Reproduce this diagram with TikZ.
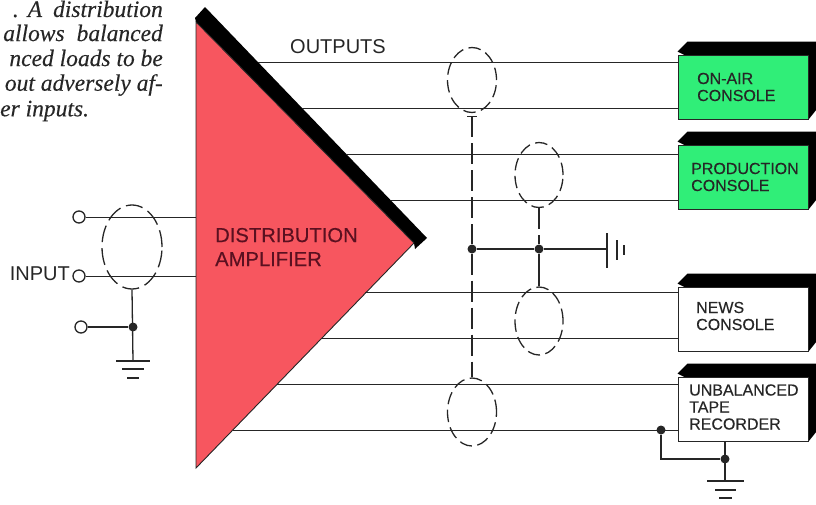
\documentclass[tikz,border=0pt]{standalone}
\usepackage{fontspec}
\setmainfont{Liberation Sans}
\newfontfamily\captionserif[FakeBold=0.25]{Liberation Serif}
\newfontfamily\medsans[FakeBold=0.35]{Liberation Sans}
\usetikzlibrary{arrows.meta,positioning,calc,backgrounds,shapes.geometric}
\definecolor{ampred}{HTML}{F7565F}
\definecolor{consolegreen}{HTML}{30EE78}
\definecolor{inkgray}{HTML}{262626}
\definecolor{ampink}{HTML}{5A1020}
\newcommand{\boxback}[1]{%
  \fill[black] ($(#1.north west)+(0,-3)$) -- ++(10,-10) -| ($(#1.south east)+(8,-10)$)
    -- ($(#1.south east)+(0,0)$) -- cycle;}
\tikzset{
  wire/.style={draw=inkgray, line width=1pt},
  shield/.style={draw=inkgray, line width=1.3pt, dash pattern=on 12.5pt off 5.5pt, ellipse, inner sep=0pt},
  drain/.style={draw=inkgray, line width=1.3pt},
  dropline/.style={draw=inkgray, line width=1.3pt, dash pattern=on 21pt off 6pt},
  joint/.style={circle, fill=inkgray, inner sep=0pt, minimum size=9pt},
  term/.style={circle, draw=inkgray, fill=white, line width=1.3pt, inner sep=0pt, minimum size=12pt},
  console/.style={draw=inkgray, line width=1pt, minimum width=130pt, minimum height=64pt, inner sep=0pt},
  boxlbl/.style={font=\medsans\fontsize{16}{17}\selectfont, align=left, text=inkgray, inner sep=0pt},
  sidelbl/.style={font=\fontsize{20}{22}\selectfont, text=inkgray, inner sep=0pt},
  ampbl/.style={font=\medsans\fontsize{20.2}{24}\selectfont, align=left, text=ampink, inner sep=0pt},
  capline/.style={font=\captionserif\itshape\fontsize{23.5}{26}\selectfont, text=inkgray, inner sep=0pt}
}
\begin{document}
\begin{tikzpicture}[x=1pt, y=-1pt]
  \useasboundingbox (0,0) rectangle (816,504);

  % caption
  \node[capline, anchor=east] (cap1) at (163,9) {.\hspace{9pt}A\hspace{11pt}distribution};
  \node[capline, anchor=east] (cap2) at (163,33) {allows\hspace{12pt}balanced};
  \node[capline, anchor=east] (cap3) at (163,58) {nced loads to be};
  \node[capline, anchor=east] (cap4) at (163,85) {out adversely af-};
  \node[capline, anchor=west] (cap5) at (0,111) {er inputs.};

  % consoles
  \node[console, fill=consolegreen] (onair) at (743,87) {};
  \node[console, fill=consolegreen] (prod) at (743,177) {};
  \node[console, fill=white] (news) at (743,319) {};
  \node[console, fill=white] (tape) at (743,409) {};
  \begin{scope}[on background layer]
    \foreach \name in {onair,prod,news,tape} {\boxback{\name}}
  \end{scope}
  \node[boxlbl, anchor=west] (onairt) at (697,87) {ON-AIR\\CONSOLE};
  \node[boxlbl, anchor=west] (prodt) at (691,177) {PRODUCTION\\CONSOLE};
  \node[boxlbl, anchor=west] (newst) at (696,316) {NEWS\\CONSOLE};
  \node[boxlbl, anchor=west] (tapet) at (689,407) {UNBALANCED\\TAPE\\RECORDER};

  % amplifier
  \coordinate (ampt) at (196,22);
  \coordinate (ampb) at (196,468);
  \coordinate (ampr) at (414,243);
  \fill[black] (195,18) -- (205,7) -- (427,238) -- (415,249) -- (ampr) -- (ampt) -- cycle;
  \fill[ampred, draw=inkgray, line width=0.9pt] (ampt) -- (ampb) -- (ampr) -- cycle;
  \node[ampbl, anchor=west] (amplbl) at (215,247) {DISTRIBUTION\\AMPLIFIER};
  \node[sidelbl, anchor=west] (outlbl) at (290,47) {OUTPUTS};

  % output pairs
  \foreach \name/\xa/\ya/\yb/\xb in {onair/258/62/108/302, prod/346/154/200/391, news/365/292/338/321, tape/277/384/430/233} {
    \coordinate (a\name) at (\xa,\ya);
    \coordinate (b\name) at (\xb,\yb);
    \draw[wire] (a\name) -- (\name.west |- a\name);
    \draw[wire] (b\name) -- (\name.west |- b\name);
  }

  % shields
  \node[shield, minimum width=49pt, minimum height=65pt] (sh1) at (472,80) {};
  \node[shield, minimum width=48pt, minimum height=65pt] (sh2) at (539,175) {};
  \node[shield, minimum width=48pt, minimum height=68pt] (sh3) at (539,321) {};
  \node[shield, minimum width=49pt, minimum height=68pt] (sh4) at (472,412) {};
  \node[shield, dash pattern=on 17pt off 6pt, minimum width=60pt, minimum height=84pt] (shin) at (132,247) {};

  % shield ground bus
  \node[joint] (j1) at (472,249) {};
  \node[joint] (j2) at (539,249) {};
  \coordinate (gbar) at (607,249);
  \draw[drain] (j1) -- (j2) -- (gbar);
  \draw[dropline] (sh1.south) ++(0,3) -- (j1);
  \draw[drain] ($(sh1.south)+(-5,3)$) -- ++(10,0);
  \draw[dropline] (j1) -- (sh4.north);
  \draw[dropline] (sh2.south) -- (j2);
  \draw[drain] (j2) -- (sh3.north);
  \draw[drain, line width=1.5pt] ($(gbar)+(0,-16)$) -- ($(gbar)+(0,19)$);
  \draw[drain, line width=1.5pt] ($(gbar)+(10,-9)$) -- ($(gbar)+(10,11)$);
  \draw[drain, line width=1.8pt] ($(gbar)+(17,-4)$) -- ($(gbar)+(17,6)$);

  % input
  \node[term] (in1) at (79,217) {};
  \node[term] (in2) at (79,276) {};
  \node[term] (in3) at (81,327) {};
  \node[sidelbl, anchor=east] (inlbl) at (70,274) {INPUT};
  \draw[wire] (in1) -- (ampt |- in1);
  \draw[wire] (in2) -- (ampt |- in2);
  \node[joint] (j3) at (133,327) {};
  \coordinate (gnd1) at (133,361);
  \draw[drain] (shin.south) -- (gnd1);
  \draw[drain] (in3) -- (j3);
  \draw[drain] ($(gnd1)+(-17,0)$) -- ++(34,0);
  \draw[drain] ($(gnd1)+(-11,8)$) -- ++(22,0);
  \draw[drain] ($(gnd1)+(-6,17)$) -- ++(12,0);

  % tape ground
  \node[joint] (j4) at (661,430) {};
  \node[joint] (j5) at (725,459) {};
  \coordinate (gnd2) at (725,481);
  \draw[drain] (j4) |- (j5);
  \draw[drain] (tape.south -| j5) -- (gnd2);
  \draw[drain] ($(gnd2)+(-18,0)$) -- ++(37,0);
  \draw[drain] ($(gnd2)+(-10,9)$) -- ++(21,0);
  \draw[drain] ($(gnd2)+(-6,17)$) -- ++(13,0);
\end{tikzpicture}
\end{document}
